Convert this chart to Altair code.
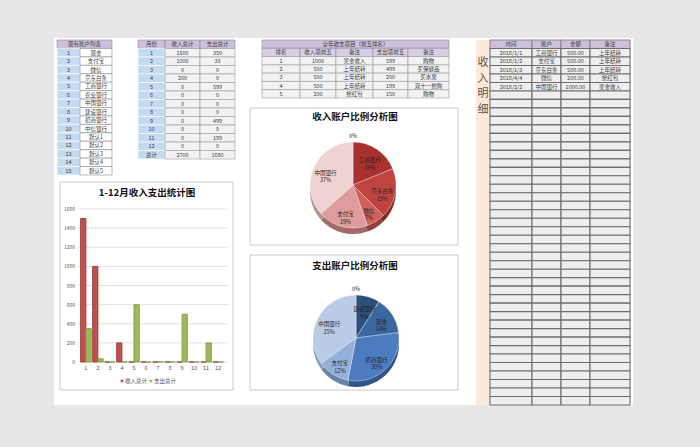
import altair as alt
import pandas as pd

FONT = "Noto Sans CJK SC"

# ---------------- data ----------------
accounts = ["现金", "支付宝", "微信", "京东白条", "工商银行", "农业银行", "中国银行",
            "建设银行", "招商银行", "中信银行", "默认1", "默认2", "默认3", "默认4", "默认5"]
months = ["1", "2", "3", "4", "5", "6", "7", "8", "9", "10", "11", "12"]
income_month = [1500, 1000, 0, 200, 0, 0, 0, 0, 0, 0, 0, 0]
expense_month = [350, 33, 0, 0, 599, 0, 0, 0, 499, 0, 199, 0]
income_total = 2700
expense_total = 1680

rank = [1, 2, 3, 4, 5]
top_income = [1000, 500, 500, 500, 200]
top_income_note = ["奖金收入", "上年结转", "上年结转", "上年结转", "抢红包"]
top_expense = [599, 499, 200, 199, 150]
top_expense_note = ["购物", "买保健品", "买水果", "双十一抢购", "购物"]

detail_date = ["2018/1/1", "2018/1/2", "2018/1/3", "2018/4/4", "2018/2/2"]
detail_account = ["工商银行", "支付宝", "京东白条", "微信", "中国银行"]
detail_amount = [500.00, 500.00, 500.00, 200.00, 1000.00]
detail_note = ["上年结转", "上年结转", "上年结转", "抢红包", "奖金收入"]
detail_total_rows = 42

income_pie_names = ["现金", "工商银行", "京东白条", "微信", "支付宝", "中国银行"]
income_pie_pct = [0, 19, 19, 7, 19, 37]
expense_pie_names = ["微信", "建设银行", "现金", "招商银行", "支付宝", "中国银行"]
expense_pie_pct = [0, 9, 14, 30, 12, 35]

series = ["收入总计", "支出总计"]
y_ticks = [0, 200, 400, 600, 800, 1000, 1200, 1400, 1600]

t1_title = "现有账户列表"
t2_head = ["月份", "收入总计", "支出总计"]
t3_title = "全年收支项目（前五排名）"
t3_head = ["排名", "收入项前五", "备注", "支出项前五", "备注"]
t4_head = ["时间", "账户", "金额", "备注"]
side_label = "收入明细"
bar_title = "1-12月收入支出统计图"
pie1_title = "收入账户比例分析图"
pie2_title = "支出账户比例分析图"

# ---------------- styles ----------------
KINDS = ["head", "head2", "idx", "name", "cell", "grid"]
FILLS = ["#ccc0da", "#d8cfe6", "#c5d9f1", "#ffffff", "#f2f2f2", "#eeeeee"]
STROKES = ["#8a8a8a", "#8a8a8a", "#ffffff", "#8a8a8a", "#9a9a9a", "#6e6e6e"]
TXT = "#3a3a3a"


def one(**kw):
    return pd.DataFrame({k: [v] for k, v in kw.items()}) if kw else pd.DataFrame({"k": [0]})


def box(x0, y0, x1, y1, fill, stroke=None, sw=0.8):
    kw = dict(fill=fill)
    if stroke:
        kw.update(stroke=stroke, strokeWidth=sw)
    return alt.Chart(one()).mark_rect(**kw).encode(
        x=alt.value(x0), x2=alt.value(x1), y=alt.value(y0), y2=alt.value(y1))


def label(text, x, y, size, bold=False, color="#111111"):
    kw = dict(font=FONT, fontSize=size, color=color)
    if bold:
        kw["fontWeight"] = "bold"
    return alt.Chart(one(t=text)).mark_text(**kw).encode(
        text="t:N", x=alt.value(x), y=alt.value(y))


def table(cells, widths, x_range, n_rows, y_range, sw=0.6, fs=5.5):
    edges = [0]
    for w in widths:
        edges.append(edges[-1] + w)
    df = pd.DataFrame(cells, columns=["r", "c0", "c1", "text", "kind"])
    df["x0"] = [edges[c] for c in df.c0]
    df["x1"] = [edges[c] for c in df.c1]
    df["xm"] = (df.x0 + df.x1) / 2
    df["y0"] = df.r
    df["y1"] = df.r + 1
    df["ym"] = df.r + 0.5
    xs = alt.Scale(domain=[0, edges[-1]], range=list(x_range), nice=False, zero=False)
    ys = alt.Scale(domain=[0, n_rows], range=list(y_range), nice=False, zero=False)
    base = alt.Chart(df)
    rects = base.mark_rect(strokeWidth=sw).encode(
        x=alt.X("x0:Q", scale=xs, axis=None), x2="x1:Q",
        y=alt.Y("y0:Q", scale=ys, axis=None), y2="y1:Q",
        fill=alt.Fill("kind:N", scale=alt.Scale(domain=KINDS, range=FILLS), legend=None),
        stroke=alt.Stroke("kind:N", scale=alt.Scale(domain=KINDS, range=STROKES), legend=None),
    )
    texts = base.mark_text(font=FONT, fontSize=fs, color=TXT).encode(
        x=alt.X("xm:Q", scale=xs, axis=None),
        y=alt.Y("ym:Q", scale=ys, axis=None),
        text="text:N",
    )
    return alt.layer(rects, texts)


# ---- table 1 ----
c1 = [(0, 0, 2, t1_title, "head")]
for i, a in enumerate(accounts, start=1):
    c1.append((i, 0, 1, str(i), "idx"))
    c1.append((i, 1, 2, a, "name"))
t1 = table(c1, [23, 32], (57, 112), len(accounts) + 1, (40, 175))

# ---- table 2 ----
c2 = [(0, j, j + 1, h, "head") for j, h in enumerate(t2_head)]
for i, m in enumerate(months, start=1):
    c2.append((i, 0, 1, m, "idx"))
    c2.append((i, 1, 2, str(income_month[i - 1]), "cell"))
    c2.append((i, 2, 3, str(expense_month[i - 1]), "cell"))
c2.append((13, 0, 1, "总计", "idx"))
c2.append((13, 1, 2, str(income_total), "cell"))
c2.append((13, 2, 3, str(expense_total), "cell"))
t2 = table(c2, [27, 35, 35], (138, 235), 14, (40, 159))

# ---- table 3 ----
c3 = [(0, 0, 5, t3_title, "head")]
c3 += [(1, j, j + 1, h, "head2") for j, h in enumerate(t3_head)]
for k in range(5):
    row = [str(rank[k]), str(top_income[k]), top_income_note[k], str(top_expense[k]), top_expense_note[k]]
    c3 += [(k + 2, j, j + 1, v, "cell") for j, v in enumerate(row)]
t3 = table(c3, [38, 36, 37, 35, 41], (262, 449), 7, (40, 98))

# ---- table 4 ----
c4 = [(0, j, j + 1, h, "head") for j, h in enumerate(t4_head)]
for k in range(detail_total_rows):
    if k < len(detail_date):
        row = [detail_date[k], detail_account[k], f"{detail_amount[k]:.2f}", detail_note[k]]
    else:
        row = ["", "", "", ""]
    c4 += [(k + 1, j, j + 1, v, "grid") for j, v in enumerate(row)]
t4 = table(c4, [42, 29, 29, 40], (490, 630), detail_total_rows + 1, (40, 405), sw=1.1)

# ---- vertical side label ----
chars = list(side_label)
side = alt.Chart(pd.DataFrame({"ch": chars})).mark_text(
    font=FONT, fontSize=11, color="#555555").encode(
    text="ch:N", x=alt.value(483),
    y=alt.Y("ch:N", scale=alt.Scale(type="point", domain=chars, range=[63, 110], padding=0), axis=None))

# ---- bar chart ----
bar_df = pd.DataFrame({
    "month": months * 2,
    "series": [series[0]] * 12 + [series[1]] * 12,
    "value": income_month + expense_month,
})
bx = alt.Scale(domain=months, range=[80, 224], paddingInner=0.12, paddingOuter=0.05)
by = alt.Scale(domain=[0, 1600], range=[362, 209], nice=False)
tick_df = pd.DataFrame({"t": y_ticks})
grid = alt.Chart(tick_df).mark_rule(color="#d4d4d4", strokeWidth=0.7).encode(
    y=alt.Y("t:Q", scale=by, axis=None), x=alt.value(78), x2=alt.value(228))
ylab = alt.Chart(tick_df).mark_text(font=FONT, fontSize=5, color="#555555", align="right").encode(
    y=alt.Y("t:Q", scale=by, axis=None), x=alt.value(75), text="t:Q")
bars = alt.Chart(bar_df).mark_bar(strokeWidth=0.9).encode(
    x=alt.X("month:N", scale=bx, axis=None, sort=months),
    xOffset=alt.XOffset("series:N", scale=alt.Scale(domain=series, paddingInner=0.0)),
    y=alt.Y("value:Q", scale=by, axis=None),
    fill=alt.Fill("series:N", scale=alt.Scale(domain=series, range=["#c0504d", "#9bbb59"]), legend=None),
    stroke=alt.Stroke("series:N", scale=alt.Scale(domain=series, range=["#a33c39", "#7f9c45"]), legend=None),
)
xlab = alt.Chart(pd.DataFrame({"month": months})).mark_text(font=FONT, fontSize=5.5, color="#555555").encode(
    x=alt.X("month:N", scale=bx, axis=None, sort=months), y=alt.value(368), text="month:N")
bar_layer = alt.layer(grid, ylab, bars, xlab)

leg_df = pd.DataFrame({"series": series})
lx = alt.Scale(type="point", domain=series, range=[122, 151], padding=0)
leg_sq = alt.Chart(leg_df).mark_square(size=7, opacity=1).encode(
    x=alt.X("series:N", scale=lx, axis=None), y=alt.value(381),
    color=alt.Color("series:N", scale=alt.Scale(domain=series, range=["#c0504d", "#9bbb59"]), legend=None))
leg_tx = alt.Chart(leg_df).mark_text(font=FONT, fontSize=5.5, color="#555555", align="left", dx=3).encode(
    x=alt.X("series:N", scale=lx, axis=None), y=alt.value(381), text="series:N")
legend = alt.layer(leg_sq, leg_tx)


# ---- pies ----
def pie(names, pct, pal, depth_pal, cx, cy, r, depth):
    df = pd.DataFrame({"name": names, "pct": pct, "idx": list(range(len(names)))})
    df["lab"] = [f"{n}\n{p}%" if p > 0 else f"{p}%" for n, p in zip(names, pct)]
    th = alt.Theta("pct:Q", stack=True)
    od = alt.Order("idx:Q")
    base = alt.Chart(df)
    side_arc = base.mark_arc(radius=r).encode(
        theta=th, order=od, x=alt.value(cx), y=alt.value(cy + depth),
        color=alt.Color("name:N", scale=alt.Scale(domain=names, range=depth_pal), legend=None))
    top_arc = base.mark_arc(radius=r, stroke="#ffffff", strokeWidth=0.4).encode(
        theta=th, order=od, x=alt.value(cx), y=alt.value(cy),
        color=alt.Color("name:N", scale=alt.Scale(domain=names, range=pal), legend=None))
    labs = base.transform_filter("datum.pct > 0").mark_text(
        radius=r * 0.7, font=FONT, fontSize=5.5, color="#222222", lineBreak="\n").encode(
        theta=th, order=od, x=alt.value(cx), y=alt.value(cy), text="lab:N")
    zero = base.transform_filter("datum.pct == 0").mark_text(
        radius=r + 6, font=FONT, fontSize=5.5, color="#222222").encode(
        theta=th, order=od, x=alt.value(cx), y=alt.value(cy), text="lab:N")
    return alt.layer(side_arc, top_arc, labs, zero).resolve_scale(color="independent")


pie1 = pie(income_pie_names, income_pie_pct,
           ["#a8302e", "#a8302e", "#c0433f", "#d0605b", "#de9d9a", "#efd3d2"],
           ["#74201e", "#74201e", "#862c29", "#95403c", "#a56a68", "#b8918f"],
           353, 185, 43, 6)
pie2 = pie(expense_pie_names, expense_pie_pct,
           ["#2d4f7c", "#2d4f7c", "#3a67a0", "#4a7cbf", "#94b2d8", "#b9cce6"],
           ["#1c3352", "#1c3352", "#26466f", "#31578a", "#6883a8", "#8a9fbd"],
           356, 338, 43, 6)

chart = alt.layer(
    box(54, 38, 633, 405, "#ffffff"),
    box(476, 40, 490, 405, "#fde9d9"),
    t1, t2, t3, t4, side,
    box(60, 182, 233, 390, "#ffffff", "#bdbdbd"),
    label(bar_title, 147, 193, 9.5, bold=True),
    bar_layer, legend,
    box(250, 108, 458, 245, "#ffffff", "#bdbdbd"),
    label(pie1_title, 355, 117, 9.5, bold=True),
    pie1,
    box(250, 255, 458, 390, "#ffffff", "#bdbdbd"),
    label(pie2_title, 355, 266, 9.5, bold=True),
    pie2,
).resolve_scale(
    x="independent", y="independent", color="independent", fill="independent",
    stroke="independent", theta="independent", xOffset="independent",
).properties(
    width=700, height=447, autosize=alt.AutoSizeParams(type="none"), padding=0,
    background="#e7e7e7",
).configure_view(stroke=None)

chart.save("out.html", embed_options={"renderer": "svg", "actions": False})
